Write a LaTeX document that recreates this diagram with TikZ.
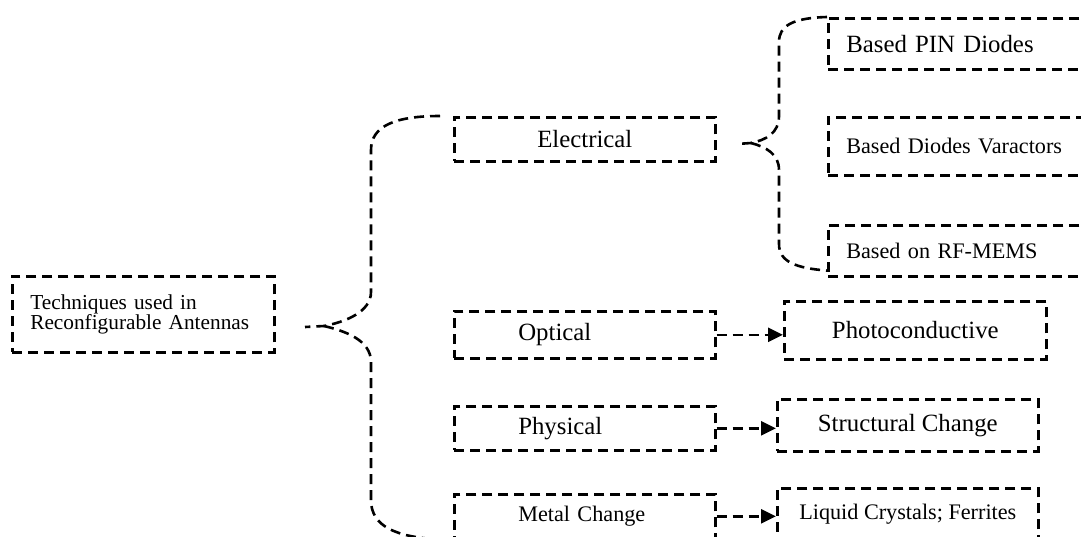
\documentclass[tikz,border=0pt]{standalone}
\usepackage{fontspec}
\setmainfont{Liberation Serif}
\usetikzlibrary{positioning,arrows.meta,calc}

\tikzset{
  dsh/.style={line width=2.6pt, dash pattern=on 10pt off 6pt},
  box/.style={draw, dsh, anchor=north west, inner sep=0pt},
  lftbox/.style={box, align=left},
  txtL/.style={font=\fontsize{24.8}{28}\selectfont},
  txtM/.style={font=\fontsize{22.2}{26}\selectfont},
  txtS/.style={font=\fontsize{21.3}{20}\selectfont},
  brace/.style={dsh},
  flow/.style={dsh, -{Triangle[length=15pt,width=14pt]}},
}

\begin{document}
\begin{tikzpicture}[x=1pt, y=-1pt]
\useasboundingbox (0,0) rectangle (1081,536);
\clip (0,0) rectangle (1081,536);
% ---- root ----
\node[lftbox, txtS, minimum width=262pt, minimum height=76pt, text width=226pt] (root) at (11,275)
  {Techniques used in\\Reconfigurable Antennas};
% ---- middle column ----
\node[box, txtL, minimum width=261pt, minimum height=44pt] (elec) at (453,116) {Electrical};
\node[lftbox, txtL, minimum width=261pt, minimum height=47pt, text width=133pt] (opt) at (453,310) {Optical};
\node[lftbox, txtL, minimum width=261pt, minimum height=44pt, text width=133pt] (phys) at (453,405) {Physical};
\node[lftbox, txtM, minimum width=261pt, minimum height=44pt, text width=133pt] (metal) at (453,493) {Metal Change};
% ---- right column ----
\node[lftbox, txtL, minimum width=300pt, minimum height=51pt, text width=264pt] (pin) at (827,17) {Based PIN Diodes};
\node[lftbox, txtM, minimum width=300pt, minimum height=58pt, text width=264pt] (var) at (827,116) {Based Diodes Varactors};
\node[lftbox, txtM, minimum width=300pt, minimum height=51pt, text width=264pt] (mems) at (827,224) {Based on RF-MEMS};
\node[box, txtL, minimum width=262pt, minimum height=58pt] (photo) at (783,300) {Photoconductive};
\node[box, txtL, minimum width=261pt, minimum height=52pt] (struct) at (776,398) {Structural Change};
\node[box, txtM, minimum width=261pt, minimum height=52pt] (liq) at (776,487) {Liquid Crystals; Ferrites};
% ---- braces ----
\coordinate (tipA) at (305,327);
\coordinate (tipB) at (737,144);
\draw[brace] ([xshift=-13pt]elec.north west) .. controls (395,116) and (371,126) .. (371,150)
  -- (371,292) .. controls (371,312) and (345,322) .. (324,326) -- (tipA);
\draw[brace] (324,326) .. controls (345,331) and (371,340) .. (371,362)
  -- (371,500) .. controls (371,526) and (395,537) .. ([xshift=-13pt]metal.south west);
\draw[brace] (pin.north west) .. controls (792,18) and (779,26) .. (779,42)
  -- (779,116) .. controls (779,133) and (766,140) .. (751,143) -- (tipB);
\draw[brace] (751,143) .. controls (766,147) and (779,154) .. (779,170)
  -- (779,244) .. controls (779,262) and (796,268) .. ([yshift=7pt]mems.south west);
% ---- arrows ----
\draw[flow] (opt.east) -- (opt.east -| photo.west);
\draw[flow] (phys.east) -- (phys.east -| struct.west);
\draw[flow] (metal.east) -- (metal.east -| liq.west);
\end{tikzpicture}
\end{document}
